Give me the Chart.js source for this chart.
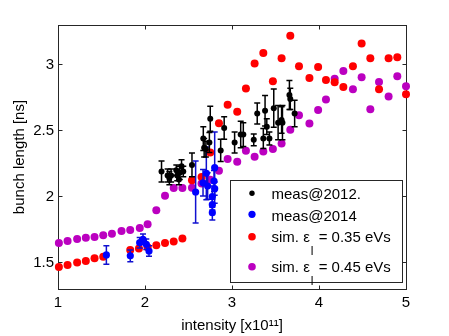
<!DOCTYPE html>
<html><head><meta charset="utf-8">
<script src="https://cdn.jsdelivr.net/npm/chart.js@4/dist/chart.umd.min.js"></script>
<style>html,body{margin:0;padding:0;background:#fff}</style>
</head><body>
<canvas id="c" width="449" height="336"></canvas>
<script>
// ---- data ----
const xTicks = [1, 2, 3, 4, 5];
const yTicks = [1.5, 2, 2.5, 3];

const meas2012X = [2.19,2.26,2.28,2.30,2.36,2.37,2.39,2.40,2.42,2.44,2.54,2.67,2.68,2.70,2.75,2.74,2.87,2.91,3.03,3.10,3.13,3.25,3.29,3.36,3.38,3.40,3.43,3.48,3.53,3.57,3.58,3.66,3.67,3.72];
const meas2012Y = [2.19,2.16,2.14,2.16,2.20,2.16,2.13,2.18,2.23,2.19,2.24,2.44,2.37,2.36,2.59,2.41,2.35,2.52,2.41,2.47,2.47,2.43,2.63,2.44,2.65,2.53,2.44,2.67,2.56,2.58,2.56,2.77,2.74,2.63];
const meas2012Err = [0.08,0.05,0.05,0.05,0.04,0.04,0.04,0.05,0.05,0.04,0.09,0.09,0.07,0.06,0.095,0.075,0.085,0.085,0.08,0.10,0.09,0.045,0.08,0.075,0.115,0.06,0.05,0.145,0.13,0.10,0.13,0.11,0.08,0.10];

const meas2014X = [1.556,1.831,1.939,1.977,2.015,2.046,2.582,2.667,2.705,2.720,2.774,2.774,2.774,2.801,2.801,2.793];
const meas2014Y = [1.558,1.551,1.651,1.677,1.639,1.588,2.035,2.105,2.176,2.080,2.000,1.939,1.878,2.219,2.060,2.118];
const meas2014Err = [0.07,0.045,0.04,0.04,0.04,0.04,0.235,0.10,0.20,0.10,0.08,0.04,0.055,0.27,0.05,0.08];

const sim035X = [1.01,1.11,1.22,1.32,1.42,1.52,1.83,1.93,2.03,2.13,2.23,2.33,2.43,2.54,2.65,2.75,2.85,2.95,3.06,3.16,3.26,3.36,3.47,3.57,3.67,3.77,3.89,3.99,4.08,4.18,4.28,4.39,4.49,4.59,4.69,4.80,4.90,5.00];
const sim035Y = [1.467,1.482,1.500,1.513,1.533,1.545,1.596,1.606,1.616,1.631,1.649,1.659,1.682,2.123,2.148,2.335,2.556,2.695,2.642,2.818,3.008,3.088,2.874,3.048,3.219,2.987,2.899,2.982,2.884,2.866,2.831,2.987,3.159,3.048,2.813,3.048,3.055,2.776];

const sim045X = [1.01,1.11,1.22,1.32,1.42,1.52,1.62,1.73,1.83,1.94,2.03,2.13,2.23,2.33,2.43,2.54,2.65,2.75,2.85,2.95,3.06,3.16,3.26,3.36,3.47,3.57,3.67,3.77,3.89,3.99,4.08,4.18,4.28,4.39,4.49,4.59,4.69,4.80,4.90,5.00];
const sim045Y = [1.649,1.664,1.679,1.689,1.694,1.707,1.719,1.740,1.747,1.762,1.790,1.896,2.007,2.065,2.065,2.067,2.100,2.128,2.196,2.284,2.264,2.347,2.302,2.342,2.360,2.403,2.506,2.617,2.554,2.657,2.735,2.892,2.952,2.813,2.904,2.662,2.869,2.758,2.912,2.836];

const legendLabels = [
  ['meas@2012.'],
  ['meas@2014'],
  ['sim. ε', 'l', ' = 0.35 eVs'],
  ['sim. ε', 'l', ' = 0.45 eVs']
];
const xTitle = 'intensity [x10¹¹]';
const yTitle = 'bunch length [ns]';

// ---- helpers ----
const pts = (xs, ys) => xs.map((x, i) => ({x: x, y: ys[i]}));
const FONT = "'Liberation Sans', Arial, sans-serif";

const framePlugin = {
  id: 'frame',
  beforeDatasetsDraw(chart) {
    const {ctx, chartArea: a, scales: {x, y}} = chart;
    const L = Math.floor(a.left) + 0.5, R = Math.floor(a.right) + 0.5;
    const T = Math.floor(a.top) + 0.5, B = Math.floor(a.bottom) + 0.5;
    ctx.save();
    ctx.strokeStyle = '#262626';
    ctx.lineWidth = 1;
    ctx.strokeRect(L, T, R - L, B - T);
    const tl = 4;
    ctx.beginPath();
    xTicks.forEach(v => {
      const px = Math.floor(x.getPixelForValue(v)) + 0.5;
      ctx.moveTo(px, B); ctx.lineTo(px, B - tl);
      ctx.moveTo(px, T); ctx.lineTo(px, T + tl);
    });
    yTicks.forEach(v => {
      const py = Math.floor(y.getPixelForValue(v)) + 0.5;
      ctx.moveTo(L, py); ctx.lineTo(L + tl, py);
      ctx.moveTo(R, py); ctx.lineTo(R - tl, py);
    });
    ctx.stroke();
    ctx.restore();
  }
};

const errorBarPlugin = {
  id: 'errorBars',
  beforeDatasetDraw(chart, args) {
    const ds = chart.data.datasets[args.index];
    if (!ds.errors) return;
    const {ctx, scales: {x, y}} = chart;
    ctx.save();
    ctx.strokeStyle = ds.errorColor;
    ctx.lineWidth = 1.5;
    ds.data.forEach((p, i) => {
      const e = ds.errors[i];
      const px = x.getPixelForValue(p.x);
      const y1 = y.getPixelForValue(p.y - e), y2 = y.getPixelForValue(p.y + e);
      ctx.beginPath();
      ctx.moveTo(px, y1); ctx.lineTo(px, y2);
      ctx.moveTo(px - 3, y1); ctx.lineTo(px + 3, y1);
      ctx.moveTo(px - 3, y2); ctx.lineTo(px + 3, y2);
      ctx.stroke();
    });
    ctx.restore();
  }
};

const legendPlugin = {
  id: 'customLegend',
  afterDraw(chart) {
    const ctx = chart.ctx;
    const box = {l: 230.5, t: 180.5, r: 402.5, b: 282.5};
    const rows = [199.3, 220.7, 242.3, 271.7];   // text baselines
    const marks = [193.3, 214.3, 236.7, 266.7];  // marker centres
    ctx.save();
    ctx.fillStyle = '#fff';
    ctx.fillRect(box.l, box.t, box.r - box.l, box.b - box.t);
    ctx.strokeStyle = '#262626';
    ctx.lineWidth = 1;
    ctx.strokeRect(box.l, box.t, box.r - box.l, box.b - box.t);
    chart.data.datasets.forEach((ds, i) => {
      ctx.beginPath();
      ctx.fillStyle = ds.pointBackgroundColor;
      ctx.arc(252, marks[i], ds.legendRadius, 0, Math.PI * 2);
      ctx.fill();
      ctx.fillStyle = '#000';
      ctx.textBaseline = 'alphabetic';
      ctx.textAlign = 'left';
      const parts = legendLabels[i];
      let xx = 271.5;
      ctx.font = '15px ' + FONT;
      ctx.fillText(parts[0], xx, rows[i]);
      xx += ctx.measureText(parts[0]).width;
      if (parts.length > 1) {
        ctx.font = '12px ' + FONT;
        ctx.fillText(parts[1], xx + 1, rows[i] + 13);
        xx += ctx.measureText(parts[1]).width + 2;
        ctx.font = '15px ' + FONT;
        ctx.fillText(parts[2], xx, rows[i]);
      }
    });
    ctx.restore();
  }
};

new Chart(document.getElementById('c'), {
  type: 'scatter',
  data: {
    datasets: [
      {label: 'meas@2012.', data: pts(meas2012X, meas2012Y), errors: meas2012Err, errorColor: '#000',
       pointBackgroundColor: '#000000', pointRadius: 3, legendRadius: 2.7},
      {label: 'meas@2014', data: pts(meas2014X, meas2014Y), errors: meas2014Err, errorColor: '#1010d0',
       pointBackgroundColor: '#0000ff', pointRadius: 3.6, legendRadius: 3.6},
      {label: 'sim. εl = 0.35 eVs', data: pts(sim035X, sim035Y),
       pointBackgroundColor: '#ff0000', pointRadius: 4, legendRadius: 3.8},
      {label: 'sim. εl = 0.45 eVs', data: pts(sim045X, sim045Y),
       pointBackgroundColor: '#bb00c0', pointRadius: 4, legendRadius: 3.8}
    ].map(d => Object.assign({showLine: false, pointBorderWidth: 0, pointBorderColor: 'rgba(0,0,0,0)', clip: false}, d))
  },
  options: {
    responsive: false,
    animation: false,
    devicePixelRatio: 1,
    events: [],
    layout: {padding: {left: 0, right: 43, top: 25, bottom: 0}},
    plugins: {legend: {display: false}, tooltip: {enabled: false}},
    scales: {
      x: {
        type: 'linear', min: 1, max: 5,
        afterBuildTicks: s => { s.ticks = xTicks.map(v => ({value: v})); },
        afterFit: s => { s.height = 47; },
        grid: {display: false, drawTicks: false},
        border: {display: false},
        ticks: {padding: 5, color: '#000', font: {family: FONT, size: 15}, callback: v => String(v), maxRotation: 0},
        title: {display: true, text: xTitle, color: '#000', font: {family: FONT, size: 15}, padding: {top: 0, bottom: 1.5}}
      },
      y: {
        type: 'linear', min: 1.3, max: 3.3,
        afterBuildTicks: s => { s.ticks = yTicks.map(v => ({value: v})); },
        afterFit: s => { s.width = 58; },
        grid: {display: false, drawTicks: false},
        border: {display: false},
        ticks: {padding: 4, color: '#000', font: {family: FONT, size: 15}, callback: v => String(v)},
        title: {display: true, text: yTitle, color: '#000', font: {family: FONT, size: 15}, padding: {top: 11, bottom: 0}}
      }
    }
  },
  plugins: [framePlugin, errorBarPlugin, legendPlugin]
});
</script>
</body></html>
